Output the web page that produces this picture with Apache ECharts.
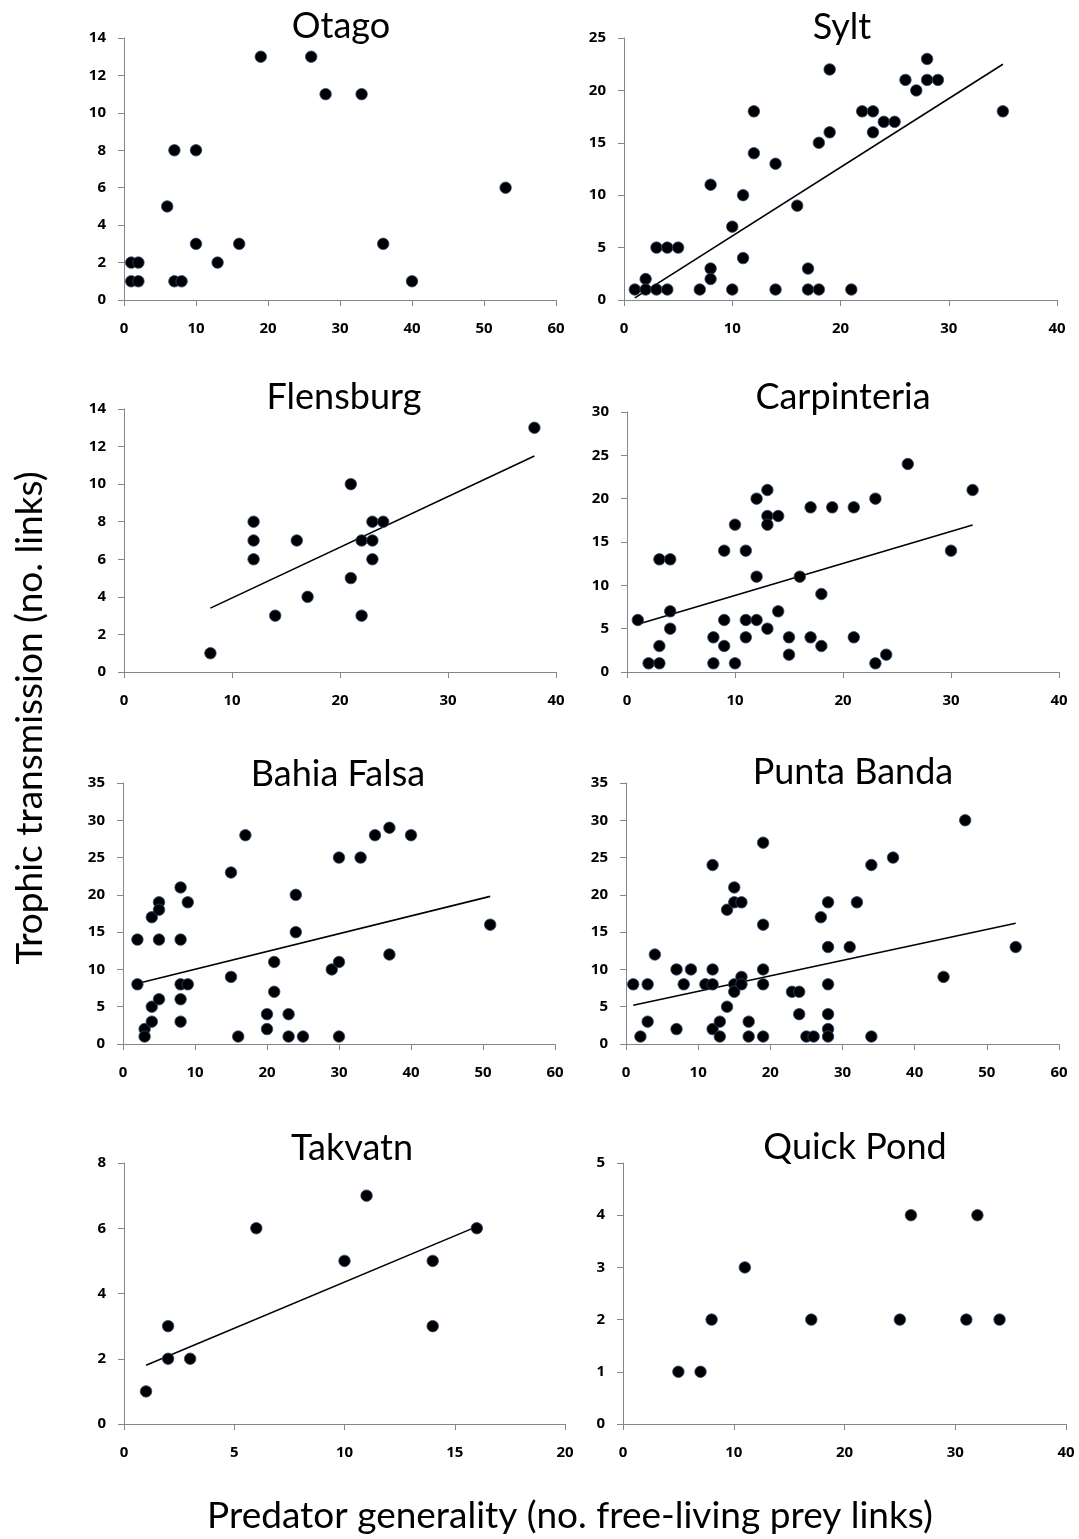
<!DOCTYPE html>
<html>
<head>
<meta charset="utf-8">
<script src="https://cdn.jsdelivr.net/npm/echarts@6/dist/echarts.min.js"></script>
<style>
html,body{margin:0;padding:0;background:#fff;}
#c{width:1079px;height:1539px;}
</style>
</head>
<body>
<div id="c"></div>
<script>
// ---- data ----
var panelNames = ['Otago','Sylt','Flensburg','Carpinteria','Bahia Falsa','Punta Banda','Takvatn','Quick Pond'];

var otago = [[1,2],[1,1],[2,2],[2,1],[6,5],[7,8],[10,8],[7,1],[8,1],[10,3],[13,2],[16,3],[19,13],[26,13],[28,11],[33,11],[36,3],[40,1],[53,6]];
var sylt = [[1,1],[2,2],[2,1],[3,1],[3,5],[4,5],[4,1],[5,5],[7,1],[8,11],[8,3],[8,2],[10,7],[10,1],[11,10],[11,4],[12,18],[12,14],[14,13],[14,1],[16,9],[17,3],[17,1],[18,1],[18,15],[19,22],[19,16],[21,1],[22,18],[23,18],[23,16],[24,17],[25,17],[26,21],[27,20],[28,23],[28,21],[29,21],[35,18]];
var flensburg = [[8,1],[12,8],[12,7],[12,6],[14,3],[16,7],[17,4],[21,10],[21,5],[22,7],[22,3],[23,8],[23,7],[23,6],[24,8],[38,13]];
var carpinteria = [[1,6],[2,1],[3,1],[3,3],[3,13],[4,13],[4,7],[4,5],[8,4],[8,1],[9,14],[9,6],[9,3],[10,17],[10,1],[11,14],[11,6],[11,4],[12,20],[12,11],[12,6],[13,21],[13,18],[13,17],[13,5],[14,18],[14,7],[15,4],[15,2],[16,11],[17,19],[17,4],[18,9],[18,3],[19,19],[21,19],[21,4],[23,20],[23,1],[24,2],[26,24],[30,14],[32,21]];
var bahiaFalsa = [[2,14],[2,8],[3,2],[3,1],[4,17],[4,5],[4,3],[5,19],[5,18],[5,14],[5,6],[8,21],[8,14],[8,8],[8,6],[8,3],[9,19],[9,8],[15,23],[15,9],[16,1],[17,28],[20,4],[20,2],[21,11],[21,7],[23,4],[23,1],[24,20],[24,15],[25,1],[29,10],[30,25],[30,11],[30,1],[33,25],[35,28],[37,29],[37,12],[40,28],[51,16]];
var puntaBanda = [[1,8],[2,1],[3,8],[3,3],[4,12],[7,10],[7,2],[8,8],[9,10],[11,8],[12,24],[12,10],[12,8],[12,2],[13,3],[13,1],[14,18],[14,5],[15,21],[15,19],[15,8],[15,7],[16,19],[16,9],[16,8],[17,3],[17,1],[19,27],[19,16],[19,10],[19,8],[19,1],[23,7],[24,7],[24,4],[25,1],[26,1],[27,17],[28,19],[28,13],[28,8],[28,4],[28,2],[28,1],[31,13],[32,19],[34,24],[34,1],[37,25],[44,9],[47,30],[54,13]];
var takvatn = [[1,1],[2,3],[2,2],[3,2],[6,6],[10,5],[11,7],[14,5],[14,3],[16,6]];
var quickPond = [[5,1],[7,1],[8,2],[11,3],[17,2],[25,2],[26,4],[31,2],[32,4],[34,2]];

// trend line end points (null = no trend line)
var syltTrend = [[1,0.2],[35,22.5]];
var flensburgTrend = [[8,3.4],[38,11.5]];
var carpinteriaTrend = [[1,5.5],[32,16.95]];
var bahiaFalsaTrend = [[2,8.1],[51,19.8]];
var puntaBandaTrend = [[1,5.2],[54,16.2]];
var takvatnTrend = [[1,1.8],[16,6.05]];

// axis ranges (max, interval) for x and y
var xMax = [60,40,40,40,60,60,20,40];
var xStep = [10,10,10,10,10,10,5,10];
var yMax = [14,25,14,30,35,35,8,5];
var yStep = [2,5,2,5,5,5,2,1];

var yTitle = 'Trophic transmission (no. links)';
var xTitle = 'Predator generality (no. free-living prey links)';

// ---- layout ----
var points = [otago, sylt, flensburg, carpinteria, bahiaFalsa, puntaBanda, takvatn, quickPond];
var trends = [null, syltTrend, flensburgTrend, carpinteriaTrend, bahiaFalsaTrend, puntaBandaTrend, takvatnTrend, null];
var gridBox = [
  [124, 38, 432, 262],
  [624, 38, 433, 262],
  [124, 409, 432, 263],
  [627, 412, 432, 260],
  [123, 783, 432, 261],
  [626, 783, 433, 261],
  [124, 1163, 441, 261],
  [623, 1163, 443, 261]
];
var titlePos = [[341,26],[842,27],[344,397],[843,397],[338,774],[853,772],[352,1148],[855,1147]];

var FONT = 'Lato, "Open Sans", sans-serif';
var TICKFONT = '"Open Sans", Lato, sans-serif';
var axisGray = '#868686';

var grids = [], xAxes = [], yAxes = [], series = [], graphics = [];
for (var i = 0; i < 8; i++) {
  var b = gridBox[i];
  grids.push({left: b[0], top: b[1], width: b[2], height: b[3], containLabel: false});
  xAxes.push({
    type: 'value', gridIndex: i, min: 0, max: xMax[i], interval: xStep[i],
    axisLine: {show: true, onZero: false, lineStyle: {color: axisGray, width: 1}},
    axisTick: {show: true, inside: false, length: 6, lineStyle: {color: axisGray}},
    splitLine: {show: false},
    axisLabel: {color: '#000', fontFamily: TICKFONT, fontWeight: 'bold', fontSize: 15, margin: 21}
  });
  yAxes.push({
    type: 'value', gridIndex: i, min: 0, max: yMax[i], interval: yStep[i],
    axisLine: {show: true, onZero: false, lineStyle: {color: axisGray, width: 1}},
    axisTick: {show: true, inside: false, length: 6, lineStyle: {color: axisGray}},
    splitLine: {show: false},
    axisLabel: {color: '#000', fontFamily: TICKFONT, fontWeight: 'bold', fontSize: 15, margin: 18}
  });
  if (trends[i]) {
    series.push({
      type: 'line', xAxisIndex: i, yAxisIndex: i, data: trends[i],
      showSymbol: false, symbol: 'none', silent: true, z: 1,
      lineStyle: {color: '#000', width: 1.6}
    });
  }
  series.push({
    type: 'scatter', xAxisIndex: i, yAxisIndex: i, data: points[i],
    symbol: 'circle', symbolSize: 11.5, z: 3,
    itemStyle: {color: '#000', opacity: 1, borderColor: '#2c4a78', borderWidth: 0.8}
  });
  graphics.push({
    type: 'text', x: titlePos[i][0], y: titlePos[i][1],
    style: {text: panelNames[i], fill: '#000', font: '36px ' + FONT, textAlign: 'center', textVerticalAlign: 'middle'}
  });
}
graphics.push({
  type: 'text', x: 30, y: 718, rotation: Math.PI / 2,
  style: {text: yTitle, fill: '#000', font: '37px ' + FONT, textAlign: 'center', textVerticalAlign: 'middle'}
});
graphics.push({
  type: 'text', x: 570, y: 1516,
  style: {text: xTitle, fill: '#000', font: '37px ' + FONT, textAlign: 'center', textVerticalAlign: 'middle'}
});

var chart = echarts.init(document.getElementById('c'), null, {renderer: 'canvas'});
chart.setOption({
  animation: false,
  backgroundColor: '#fff',
  grid: grids,
  xAxis: xAxes,
  yAxis: yAxes,
  series: series,
  graphic: graphics
});
</script>
</body>
</html>
